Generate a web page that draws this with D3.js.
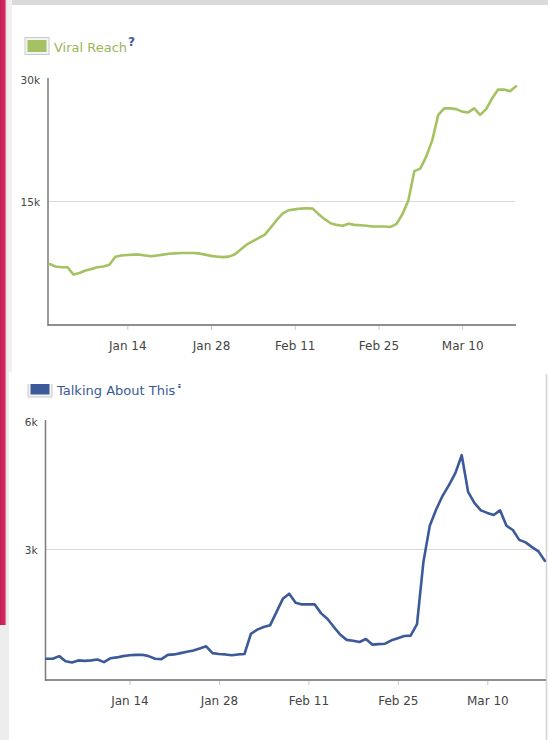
<!DOCTYPE html>
<html>
<head>
<meta charset="utf-8">
<script src="https://cdn.jsdelivr.net/npm/d3@7"></script>
<style>
  body { margin: 0; background: #e4e4e4; }
  svg { display: block; font-family: "DejaVu Sans", Tahoma, sans-serif; }
</style>
</head>
<body>
<svg id="chart" width="548" height="740"></svg>
<script>
// daily values, Jan 1 .. Mar 19 2012
const viralReach = [
  7300, 7000, 6900, 6900, 6000, 6200, 6500, 6700, 6900, 7000,
  7200, 8200, 8350, 8400, 8450, 8450, 8350, 8250, 8350, 8450,
  8550, 8600, 8650, 8650, 8650, 8600, 8450, 8300, 8200, 8150,
  8200, 8500, 9100, 9700, 10100, 10500, 10900, 11800, 12700, 13500,
  13900, 14000, 14100, 14150, 14100, 13400, 12800, 12300, 12100, 12000,
  12250, 12100, 12050, 12000, 11900, 11900, 11900, 11850, 12200, 13400,
  15100, 18700, 19000, 20500, 22500, 25600, 26400, 26400, 26300, 26000,
  25900, 26400, 25600, 26300, 27600, 28700, 28700, 28500, 29100
];
const talkingAboutThis = [
  440, 440, 500, 380, 350, 400, 390, 400, 420, 360,
  450, 470, 500, 520, 530, 530, 500, 440, 430, 530,
  540, 570, 600, 630, 680, 730, 570, 550, 540, 520,
  540, 550, 1020, 1120, 1180, 1220, 1530, 1840, 1960, 1750,
  1710, 1710, 1710, 1500, 1370, 1180, 1000, 880, 860, 830,
  900, 770, 780, 790, 870, 920, 970, 980, 1250, 2700,
  3550, 3930, 4250, 4500, 4780, 5200, 4340, 4080, 3910, 3850,
  3800, 3910, 3550, 3450, 3220, 3160, 3050, 2950, 2730
];
const days = d3.timeDays(new Date(2012, 0, 1), new Date(2012, 2, 20));

const tickDates = [new Date(2012, 0, 14), new Date(2012, 0, 28), new Date(2012, 1, 11),
  new Date(2012, 1, 25), new Date(2012, 2, 10)];
const tickLabels = ["Jan 14", "Jan 28", "Feb 11", "Feb 25", "Mar 10"];

const viralTicks = [15000, 30000];
const viralTickLabels = ["15k", "30k"];
const talkingTicks = [3000, 6000];
const talkingTickLabels = ["3k", "6k"];

const svg = d3.select("#chart");

// screenshot backdrop
svg.append("rect").attr("width", 548).attr("height", 740).attr("fill", "#e4e4e4");
const grad = svg.append("defs").append("linearGradient").attr("id", "edge");
grad.append("stop").attr("offset", "0%").attr("stop-color", "#c51d58");
grad.append("stop").attr("offset", "40%").attr("stop-color", "#d02a63");
grad.append("stop").attr("offset", "55%").attr("stop-color", "#ececec");
grad.append("stop").attr("offset", "100%").attr("stop-color", "#f2f2f2");
svg.append("rect").attr("x", 0).attr("y", 0).attr("width", 12).attr("height", 625).attr("fill", "url(#edge)");
svg.append("rect").attr("x", 0).attr("y", 625).attr("width", 10).attr("height", 115).attr("fill", "#ededed");
svg.append("rect").attr("x", 12).attr("y", 0).attr("width", 536).attr("height", 5).attr("fill", "#dadada");
svg.append("rect").attr("x", 12).attr("y", 5).attr("width", 536).attr("height", 367).attr("fill", "#fff");
svg.append("rect").attr("x", 9).attr("y", 372).attr("width", 539).attr("height", 368).attr("fill", "#fff");
svg.append("line").attr("x1", 546.5).attr("x2", 546.5).attr("y1", 374).attr("y2", 740)
  .attr("stroke", "#d4d4d4").attr("stroke-width", 1.5);

function drawPanel(cfg) {
  const g = svg.append("g");
  if (cfg.clipTop) {
    svg.select("defs").append("clipPath").attr("id", cfg.id + "-clip")
      .append("rect").attr("x", 0).attr("y", cfg.clipTop).attr("width", 548).attr("height", 740 - cfg.clipTop);
    g.attr("clip-path", `url(#${cfg.id}-clip)`);
  }

  const x = d3.scaleTime().domain([days[0], days[days.length - 1]]).range([cfg.x0, cfg.x1]);
  const y = d3.scaleLinear().domain([0, cfg.yMax]).range([cfg.y0, cfg.yTop]);

  // legend
  const lg = g.append("g").attr("transform", `translate(${cfg.legendX}, ${cfg.legendY})`);
  lg.append("rect").attr("width", 24).attr("height", 17).attr("fill", "#f3f3f3")
    .attr("stroke", "#c9c9c9").attr("stroke-width", 1);
  lg.append("rect").attr("x", 2.5).attr("y", 2.5).attr("width", 19).attr("height", 12).attr("fill", cfg.color);
  const label = lg.append("text").attr("x", 29).attr("y", 14.5)
    .style("font-size", "13px").attr("fill", cfg.textColor).text(cfg.label);
  const lw = label.node().getComputedTextLength();
  lg.append("text").attr("x", 29 + lw + 1).attr("y", 8)
    .style("font-size", "12px").style("font-weight", "bold").attr("fill", "#3b5998").text("?");

  // gridline(s) below the top tick
  g.selectAll(".grid")
    .data(cfg.yTicks.slice(0, -1))
    .enter()
    .append("line")
    .attr("class", "grid")
    .attr("x1", cfg.axisX).attr("x2", cfg.gridRight)
    .attr("y1", d => Math.round(y(d)) + 0.5).attr("y2", d => Math.round(y(d)) + 0.5)
    .attr("stroke", "#d9d9d9").attr("stroke-width", 1);

  // y axis labels
  const yAxis = g.append("g").attr("transform", `translate(${cfg.axisX}, 0)`)
    .call(d3.axisLeft(y).tickValues(cfg.yTicks).tickSize(0).tickPadding(8)
      .tickFormat((d, i) => cfg.yLabels[i]));
  yAxis.select(".domain").remove();
  yAxis.selectAll("text").style("font-size", "10.5px").attr("fill", "#444").attr("dy", "0.45em")
    .style("font-family", "'DejaVu Sans', Tahoma, sans-serif");

  // x axis
  const xAxis = g.append("g").attr("transform", `translate(0, ${cfg.axisY})`)
    .call(d3.axisBottom(x).tickValues(tickDates).tickSize(5).tickSizeOuter(0).tickPadding(11)
      .tickFormat((d, i) => tickLabels[i]));
  xAxis.select(".domain").remove();
  xAxis.selectAll(".tick line").attr("stroke", "#c8c8c8");
  xAxis.selectAll("text").style("font-size", "12px").attr("fill", "#444")
    .style("font-family", "'DejaVu Sans', Tahoma, sans-serif");

  g.append("line").attr("x1", cfg.axisX).attr("x2", cfg.axisRight)
    .attr("y1", cfg.axisY).attr("y2", cfg.axisY)
    .attr("stroke", "#8e8e8e").attr("stroke-width", 2);
  g.append("line").attr("x1", cfg.axisX).attr("x2", cfg.axisX)
    .attr("y1", cfg.yTop - 1).attr("y2", cfg.axisY + 1)
    .attr("stroke", "#7a7a7a").attr("stroke-width", 1.5);

  const lineGenerator = d3.line()
    .x((d, i) => x(days[i]))
    .y(d => y(d));

  g.append("path")
    .datum(cfg.values)
    .attr("fill", "none")
    .attr("stroke", cfg.color)
    .attr("stroke-width", 2.6)
    .attr("stroke-linejoin", "round")
    .attr("stroke-linecap", "round")
    .attr("d", lineGenerator);
}

drawPanel({
  id: "viral",
  values: viralReach,
  color: "#a5c262",
  textColor: "#9bb65a",
  label: "Viral Reach",
  legendX: 25, legendY: 37.5,
  yMax: 30000, yTicks: viralTicks, yLabels: viralTickLabels,
  x0: 49.6, x1: 516, y0: 323.5, yTop: 79,
  axisX: 48, axisY: 325, axisRight: 516, gridRight: 515
});

// second screenshot is cropped just above its legend
drawPanel({
  id: "talking",
  clipTop: 384,
  values: talkingAboutThis,
  color: "#3c5a9a",
  textColor: "#3b5998",
  label: "Talking About This",
  legendX: 28, legendY: 380,
  yMax: 6000, yTicks: talkingTicks, yLabels: talkingTickLabels,
  x0: 46.4, x1: 544.8, y0: 677.5, yTop: 421,
  axisX: 45.5, axisY: 680, axisRight: 546, gridRight: 540
});
</script>
</body>
</html>
